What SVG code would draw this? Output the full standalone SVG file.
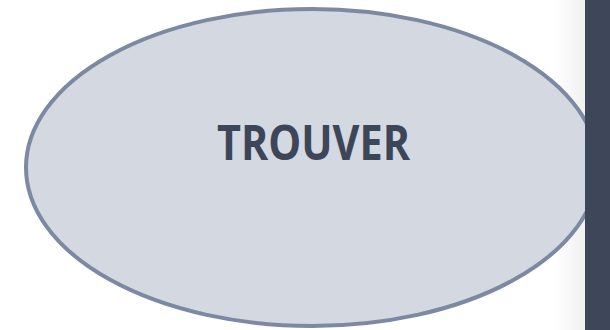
<svg xmlns="http://www.w3.org/2000/svg" width="610" height="330" viewBox="0 0 610 330">
<defs>
<linearGradient id="shade" x1="0" y1="0" x2="1" y2="0">
<stop offset="0" stop-color="#ffffff"/>
<stop offset="1" stop-color="#f0f0f1"/>
</linearGradient>
<style>
.node{fill:#d3d8e1;stroke:#7d88a3;stroke-width:4}
.label{font-family:"Open Sans","Noto Sans",sans-serif;font-weight:bold;font-size:48px;fill:#3d4658}
</style>
</defs>
<rect width="610" height="330" fill="#ffffff"/>
<rect x="555" y="0" width="30" height="330" fill="url(#shade)"/>
<g id="trouver">
<ellipse class="node" cx="312" cy="167.5" rx="286" ry="158.5"/>
<text class="label" x="313.5" y="160" text-anchor="middle" textLength="193" lengthAdjust="spacingAndGlyphs">TROUVER</text>
</g>
<g id="connectors"></g>
<rect x="585" y="0" width="25" height="330" fill="#3e4659"/>
</svg>
